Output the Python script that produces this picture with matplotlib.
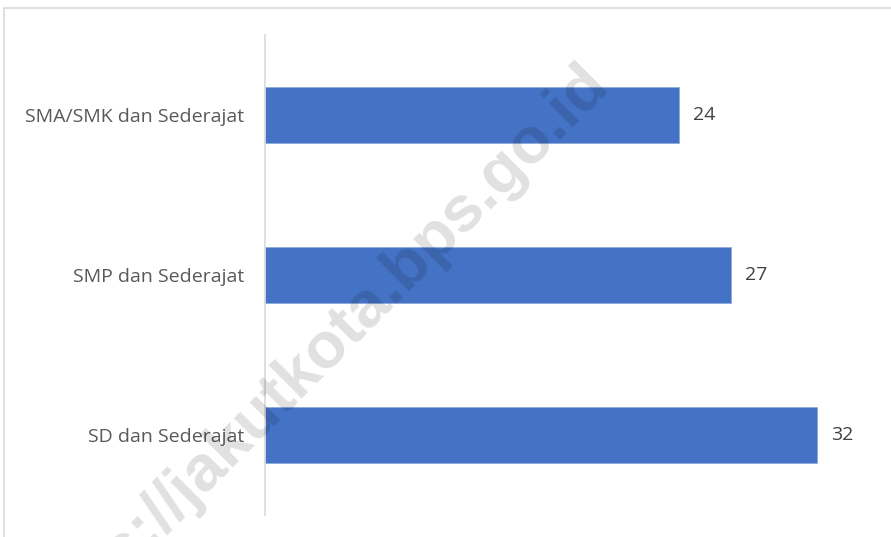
import matplotlib.pyplot as plt
from matplotlib.patches import Rectangle

categories = ["SD dan Sederajat", "SMP dan Sederajat", "SMA/SMK dan Sederajat"]
values = [32, 27, 24]

plt.rcParams["font.family"] = ["Open Sans", "DejaVu Sans"]

fig = plt.figure(figsize=(8.91, 5.37), dpi=100)
ax = fig.add_axes([265 / 891, 22 / 537, 604 / 891, 480 / 537])

ax.barh(range(len(categories)), values, height=0.35, color="#4472c4",
        edgecolor="#8eaadb", linewidth=0.6)
ax.set_xlim(0, 35)
ax.set_ylim(-0.5, 2.5)
ax.set_yticks(range(len(categories)))
ax.set_yticklabels(categories, fontsize=14, color="#595959")
ax.tick_params(axis="y", length=0, pad=15)
ax.set_xticks([])
for s in ["top", "right", "bottom"]:
    ax.spines[s].set_visible(False)
ax.spines["left"].set_color("#d9d9d9")
ax.spines["left"].set_linewidth(1.2)

for i, v in enumerate(values):
    ax.text(v + 0.8, i, f"{v}", va="center", ha="left", fontsize=14, color="#404040")

# chart frame (cropped at right and bottom)
fig.patches.append(Rectangle((4 / 891, -0.1), 1.2, 1.1 - 7.5 / 537,
                             transform=fig.transFigure, fill=False,
                             edgecolor="#d9d9d9", linewidth=1.2))

# watermark
fig.text(312 / 891, 1 - 360 / 537, "https://jakutkota.bps.go.id", rotation=45,
         rotation_mode="anchor", ha="center", va="center", fontsize=47,
         fontweight="bold", color="black", alpha=0.12, family="Liberation Sans")

fig.savefig("out.png", dpi=100)
